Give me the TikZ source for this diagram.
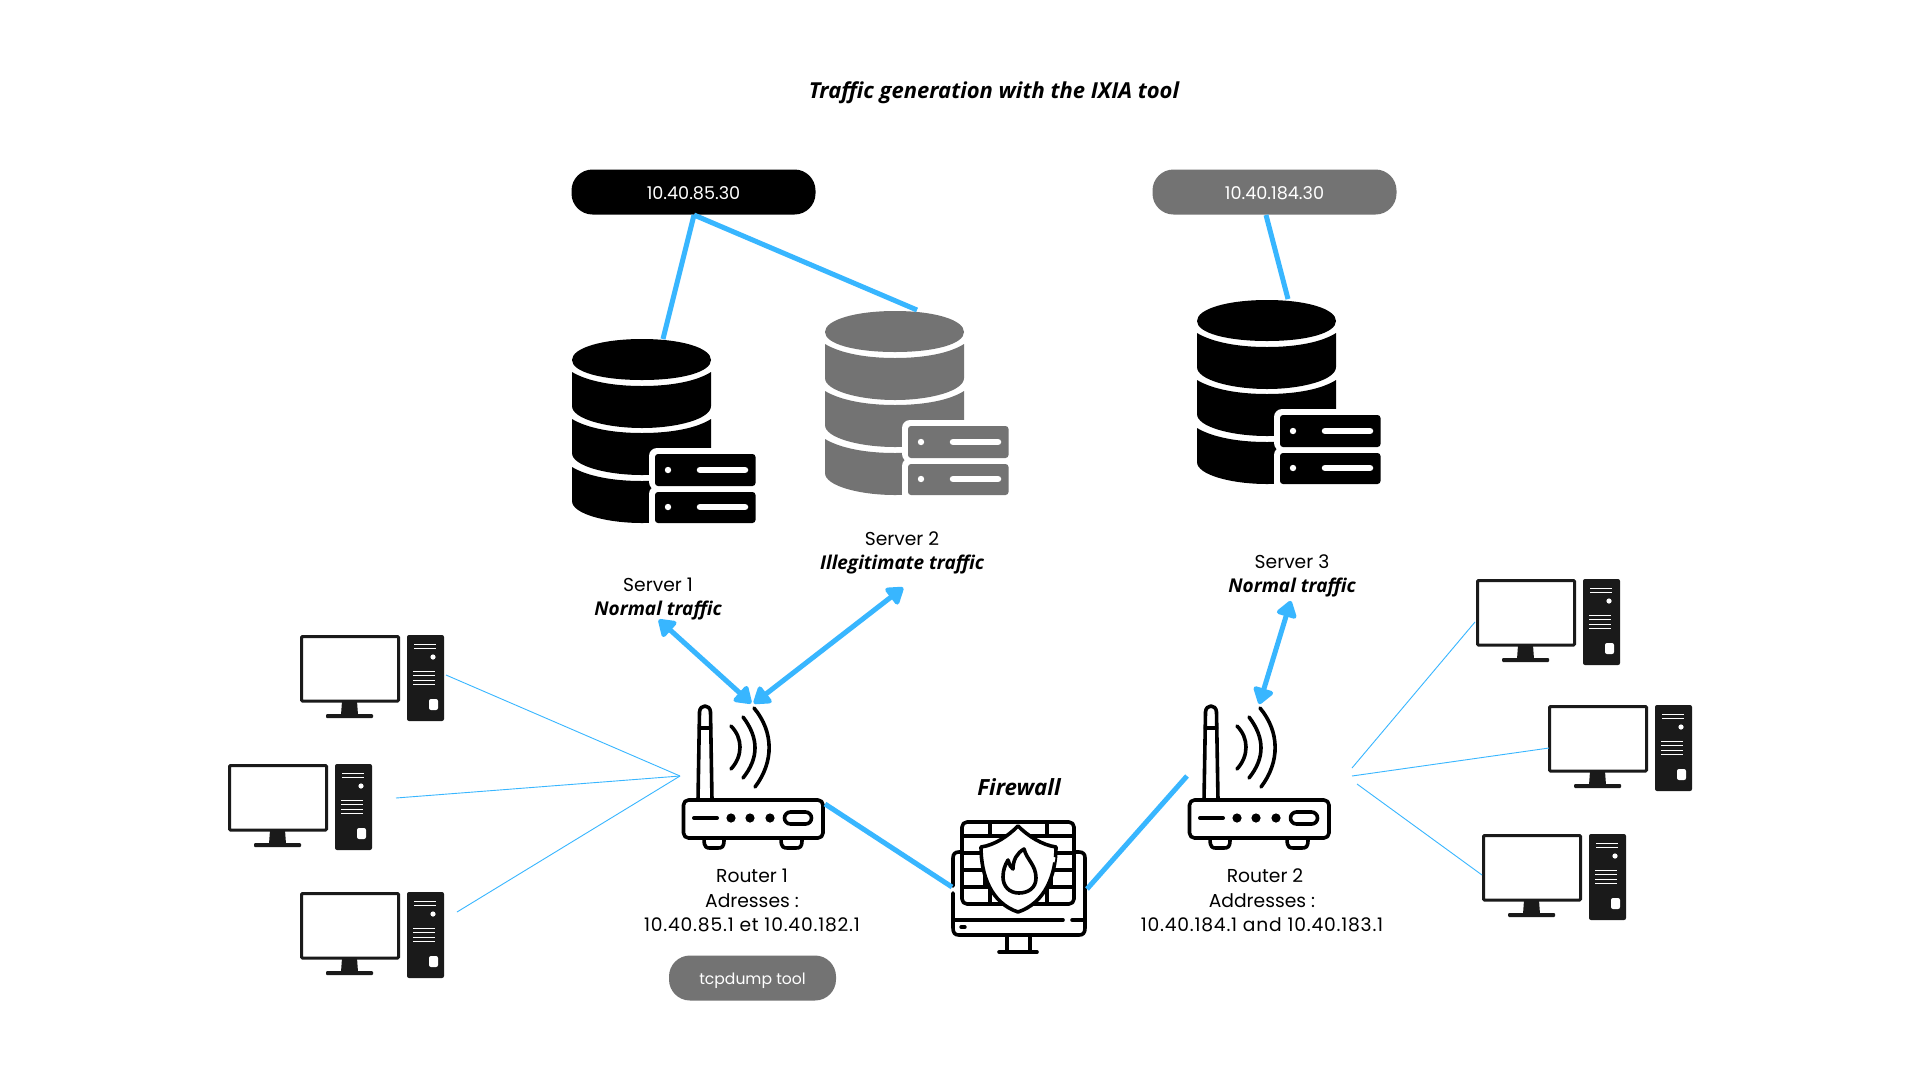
\documentclass[tikz,border=0pt]{standalone}
\usepackage{fontspec}
\usetikzlibrary{arrows.meta}
\setmainfont{Poppins}
\newfontfamily\titlefont{Open Sans}
\newfontfamily\spacedfont[LetterSpace=4.2]{Poppins}
\definecolor{cblue}{HTML}{38B6FF}
\definecolor{cgrey}{HTML}{737373}
\definecolor{cdark}{HTML}{1A1A1A}
\tikzset{
  label18/.style={font=\fontsize{18.7}{22}\selectfont,text=black,inner sep=0pt,align=center},
  addr18/.style={font=\spacedfont\fontsize{18.7}{22}\selectfont,text=black,inner sep=0pt,align=center},
  italic18/.style={font=\titlefont\fontsize{19}{22}\selectfont\bfseries\itshape,text=black,inner sep=0pt},
  pill/.style={rounded corners=21pt,text=white,inner sep=0pt,minimum height=45pt},
  pilltext/.style={font=\fontsize{17.6}{20}\selectfont,text height=14pt,text depth=0pt},
  pilltool/.style={font=\fontsize{15.6}{20}\selectfont,text height=12.5pt,text depth=0pt},
  link/.style={cblue,line width=5pt},
  twoway/.style={cblue,line width=5pt,{Triangle[round,length=18pt,width=23pt]}-{Triangle[round,length=18pt,width=23pt]},shorten <=1pt,shorten >=1pt},
  thinlink/.style={cblue,line width=0.9pt},
  icon/.style={line width=3.6pt,black,line cap=round,line join=round},
}
\newcommand\dbicon[3]{%
\begin{scope}[shift={(#1,#2)}]
\fill[#3] (0,21) .. controls (0,9) and (30,0) .. (70,0) .. controls (110,0) and (139,9) .. (139,21) .. controls (139,33) and (110,41) .. (70,41) .. controls (30,41) and (0,33) .. (0,21) -- cycle;
\foreach \t in {0,47,95}{
\fill[#3] (0,33+\t) .. controls (15,42+\t) and (40,47+\t) .. (70,47+\t) .. controls (100,47+\t) and (125,42+\t) .. (139,33+\t) -- (139,67+\t) .. controls (139,80+\t) and (105,89+\t) .. (70,89+\t) .. controls (35,89+\t) and (0,80+\t) .. (0,67+\t) -- cycle;}
\fill[white,rounded corners=8pt] (77,109) rectangle (195,151);
\fill[white,rounded corners=8pt] (77,147) rectangle (195,195);
\fill[#3,rounded corners=3pt] (83,115) rectangle (183.5,147);
\fill[#3,rounded corners=3pt] (83,153) rectangle (183.5,184);
\fill[white] (96,131) circle (3.2);
\fill[white] (96,168) circle (3.2);
\draw[white,line width=6.5pt,line cap=round] (128,131) -- (173,131);
\draw[white,line width=6.5pt,line cap=round] (128,168) -- (173,168);
\end{scope}}
\newcommand\pcicon[2]{%
\begin{scope}[shift={(#1,#2)}]
\draw[cdark,line width=3pt,rounded corners=1pt] (1.5,1.5) rectangle (98.5,66);
\fill[cdark] (42,66) -- (57,66) -- (58,80) -- (41,80) -- cycle;
\fill[cdark,rounded corners=1pt] (26,79) rectangle (73,83);
\fill[cdark,rounded corners=2pt] (107,0) rectangle (144,86);
\foreach \yy in {9,13}{\draw[white,line width=1pt] (114,\yy) -- (136,\yy);}
\foreach \yy in {36,40.5,45,49.5}{\draw[white,line width=1pt] (113,\yy) -- (135,\yy);}
\fill[white] (133,22) circle (2.6);
\fill[white,rounded corners=2pt] (129,64) rectangle (138,75);
\end{scope}}
\newcommand\routericon[2]{%
\begin{scope}[shift={(#1,#2)},icon]
\draw[rounded corners=5pt] (683.5,800) rectangle (823,838);
\draw (704,839) .. controls (704,848) and (707,848) .. (710,848) -- (718,848) .. controls (722,848) and (724,847) .. (724,840);
\draw (781,839) .. controls (781,848) and (784,848) .. (788,848) -- (796,848) .. controls (800,848) and (802,847) .. (802,840);
\draw (698,800) -- (699.5,712) .. controls (700,704) and (710,704) .. (710.5,712) -- (712,800);
\draw (699.5,728) -- (710.5,728);
\draw[line width=4pt] (694,818) -- (717,818);
\fill (731,818) circle (4.6);
\fill (750,818) circle (4.6);
\fill (770,818) circle (4.6);
\draw[rounded corners=6pt] (784.5,812) rectangle (811.5,824);
\draw (731,726) .. controls (743,738) and (743,756) .. (731,769);
\draw (743,717) .. controls (759,738) and (759,758) .. (743,778);
\draw (754,708) .. controls (774,732) and (774,762) .. (755,787);
\end{scope}}
\begin{document}
\begin{tikzpicture}[x=1pt,y=-1pt]
\useasboundingbox (0,0) rectangle (1920,1080);
\fill[white] (0,0) rectangle (1920,1080);

% title
\node[font=\titlefont\fontsize{22}{26}\selectfont\bfseries\itshape,inner sep=0pt] (title) at (994,93) {Traffic generation with the IXIA tool};

% pills
\node[pill,pilltext,fill=black,minimum width=244pt] (ip1) at (693.5,192) {10.40.85.30};
\node[pill,pilltext,fill=cgrey,minimum width=244pt] (ip3) at (1274.5,192) {10.40.184.30};
\node[pill,pilltool,fill=cgrey,minimum width=167pt] (tcp) at (752.5,978) {tcpdump tool};

% databases
\dbicon{572}{339}{black}
\dbicon{825}{311}{cgrey}
\dbicon{1197}{300}{black}

% PCs
\pcicon{300}{635}
\pcicon{228}{764}
\pcicon{300}{892}
\pcicon{1476}{579}
\pcicon{1548}{705}
\pcicon{1482}{834}

% routers
\routericon{0}{0}
\routericon{506}{0}

% firewall
\begin{scope}[icon]
\draw (953,886) -- (953,858) .. controls (953,854) and (955,852) .. (959,852) -- (962,852);
\draw (1075,852) -- (1079,852) .. controls (1083,852) and (1085,854) .. (1085,858) -- (1085,928) .. controls (1085,933) and (1083,935) .. (1079,935) -- (959,935) .. controls (955,935) and (953,933) .. (953,928) -- (953,893);
\draw (953,920) -- (1063,920);
\draw (1072,920) -- (1085,920);
\draw[line width=3.4pt] (961,927) -- (965,927);
\draw (1007,935) -- (1007,951);
\draw (1030,935) -- (1030,951);
\draw (999,952) -- (1037,952);
\draw[rounded corners=5pt] (962,822) rectangle (1074,904);
\draw (962,836) -- (1074,836);
\draw (962,853) -- (1074,853);
\draw (962,870) -- (1074,870);
\draw (962,887) -- (1074,887);
\draw (990,822) -- (990,836);
\draw (1047,822) -- (1047,836);
\draw (990,887) -- (990,904);
\draw (1047,887) -- (1047,904);
\draw (1051,870) -- (1051,887);
\draw (985,870) -- (985,887);
\filldraw[fill=white] (1018,826) .. controls (1028,836) and (1042,845) .. (1056,847) .. controls (1056,875) and (1045,903) .. (1018,912) .. controls (991,903) and (981,875) .. (981,847) .. controls (995,845) and (1008,836) .. (1018,826) -- cycle;
\draw[white,line width=4pt,line cap=butt] (1053.5,857) -- (1052.5,862);
\draw (1024,849) .. controls (1027,860) and (1036,865) .. (1036,878) .. controls (1036,888) and (1028,893) .. (1019,893) .. controls (1009,893) and (1003,886) .. (1003,877) .. controls (1003,870) and (1005,865) .. (1008,860) .. controls (1010,866) and (1011,868) .. (1013,869) .. controls (1013,860) and (1017,853) .. (1024,849) -- cycle;
\end{scope}

% labels
\node[label18] (s1) at (658,585) {Server 1};
\node[italic18] (t1) at (658,611) {Normal traffic};
\node[label18] (s2) at (902,539) {Server 2};
\node[italic18] (t2) at (902,565) {Illegitimate traffic};
\node[label18] (s3) at (1292,562) {Server 3};
\node[italic18] (t3) at (1292,588) {Normal traffic};
\node[font=\titlefont\fontsize{22.3}{26}\selectfont\bfseries\itshape,inner sep=0pt] (fw) at (1019,787) {Firewall};
\node[label18] (r1a) at (752,876) {Router 1};
\node[label18] (r1b) at (752,901) {Adresses :};
\node[addr18] (r1c) at (752,925) {10.40.85.1 et 10.40.182.1};
\node[label18] (r2a) at (1265,876) {Router 2};
\node[label18] (r2b) at (1262,901) {Addresses :};
\node[addr18] (r2c) at (1262,925) {10.40.184.1 and 10.40.183.1};

% connector ends
\coordinate (ip1b) at (694,215);
\coordinate (db1t) at (663,339);
\coordinate (db2t) at (917,310);
\coordinate (ip3b) at (1266,215);
\coordinate (db3t) at (1288,299);
\coordinate (a1s) at (658,619);
\coordinate (a1r) at (752,704);
\coordinate (a2s) at (904,587);
\coordinate (a2r) at (753,704);
\coordinate (a3s) at (1291,600);
\coordinate (a3r) at (1259,705);
\coordinate (r1e) at (825,804);
\coordinate (fwl) at (952,887);
\coordinate (fwr) at (1087,889);
\coordinate (r2w) at (1187,776);
\coordinate (hub1) at (680,776);
\coordinate (p1) at (446,675);
\coordinate (p2) at (396,798);
\coordinate (p3) at (457,912);
\coordinate (p4) at (1475,622);
\coordinate (p5) at (1549,748);
\coordinate (p6) at (1482,875);
\coordinate (h4) at (1352,768);
\coordinate (h5) at (1352,776);
\coordinate (h6) at (1357,784);

% connectors
\draw[link] (ip1b) -- (db1t);
\draw[link] (ip1b) -- (db2t);
\draw[link] (ip3b) -- (db3t);
\draw[twoway] (a1s) -- (a1r);
\draw[twoway] (a2s) -- (a2r);
\draw[twoway] (a3s) -- (a3r);
\draw[link] (r1e) -- (fwl);
\draw[link] (fwr) -- (r2w);
\draw[thinlink] (p1) -- (hub1);
\draw[thinlink] (p2) -- (hub1);
\draw[thinlink] (p3) -- (hub1);
\draw[thinlink] (p4) -- (h4);
\draw[thinlink] (p5) -- (h5);
\draw[thinlink] (p6) -- (h6);
\end{tikzpicture}
\end{document}
